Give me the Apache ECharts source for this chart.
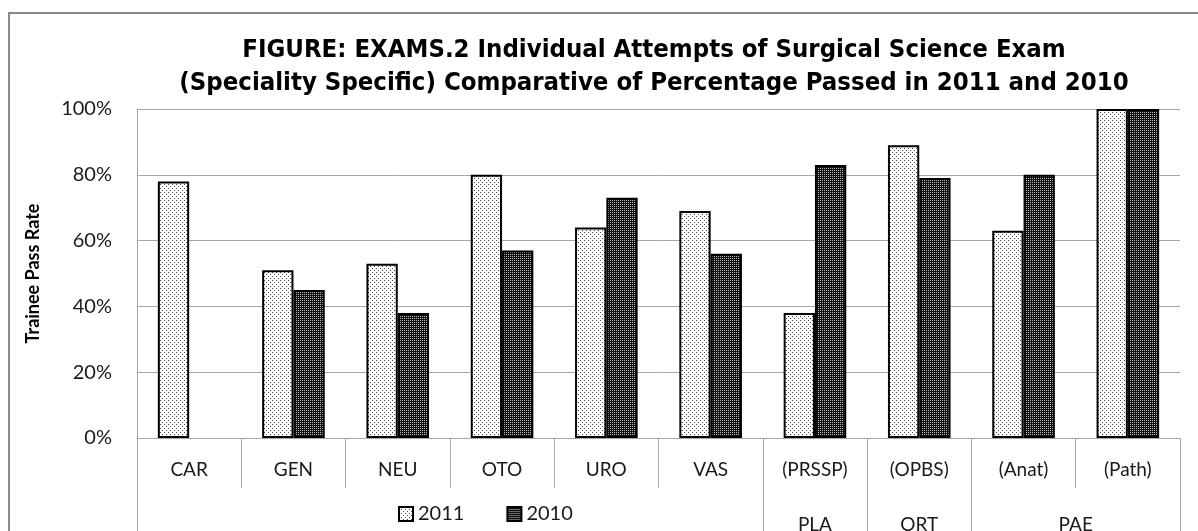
<!DOCTYPE html>
<html>
<head>
<meta charset="utf-8">
<title>EXAMS.2</title>
<script src="https://cdn.jsdelivr.net/npm/echarts@6/dist/echarts.min.js"></script>
<style>
  html, body { margin: 0; padding: 0; background: #fff; }
  #main { width: 1198px; height: 531px; }
</style>
</head>
<body>
<div id="main"></div>
<script>
// specialities (first row under the axis)
const categories = ['CAR', 'GEN', 'NEU', 'OTO', 'URO', 'VAS', '(PRSSP)', '(OPBS)', '(Anat)', '(Path)']
// second row: group name + which categories it spans [from, to)
const groupNames = ['PLA', 'ORT', 'PAE']
const groupFrom = [6, 7, 8]
const groupTo = [7, 8, 10]

// pass rates
const pass2011 = [0.78, 0.51, 0.53, 0.80, 0.64, 0.69, 0.38, 0.89, 0.63, 1.00]
const pass2010 = [null, 0.45, 0.38, 0.57, 0.73, 0.56, 0.83, 0.79, 0.80, 1.00]

const seriesNames = ['2011', '2010']
const titleText = 'FIGURE: EXAMS.2 Individual Attempts of Surgical Science Exam\n(Speciality Specific) Comparative of Percentage Passed in 2011 and 2010'

const labelFont = 'Lato, "Open Sans", sans-serif'
const gridGray = '#a6a6a6'

// small dotted fill, like the old excel patterns
const dotPattern = (bg, dot, pts) => {
  const c = document.createElement('canvas')
  c.width = 4
  c.height = 4
  const ctx = c.getContext('2d')
  ctx.fillStyle = bg
  ctx.fillRect(0, 0, 4, 4)
  ctx.fillStyle = dot
  pts.forEach(p => ctx.fillRect(p[0], p[1], 1, 1))
  return { image: c, repeat: 'repeat' }
}
const light = dotPattern('#ffffff', '#444444', [[0, 0], [2, 2]])
const dark = dotPattern('#111111', '#bdbdbd', [[0, 0], [2, 0], [0, 2], [2, 2]])

// tick marks of the lower row sit on the group edges
const groupEdges = [0]
groupFrom.forEach((f, i) => { groupEdges.push(f); groupEdges.push(groupTo[i]) })
const groupCenters = groupFrom.map((f, i) => (f + groupTo[i]) / 2)

const chart = echarts.init(document.getElementById('main'), null, { renderer: 'canvas' })

const option = {
  animation: false,
  backgroundColor: '#fff',
  title: {
    text: titleText,
    left: 649,
    top: 29,
    textAlign: 'center',
    textStyle: {
      fontFamily: '"DejaVu Sans Condensed", "DejaVu Sans", sans-serif',
      fontWeight: 'bold',
      fontSize: 25.5,
      lineHeight: 33,
      color: '#000'
    }
  },
  legend: {
    data: seriesNames,
    left: 393,
    top: 499,
    itemWidth: 14,
    itemHeight: 14,
    itemGap: 42,
    icon: 'rect',
    textStyle: { fontFamily: labelFont, fontSize: 20, color: '#1a1a1a' }
  },
  graphic: [
    {
      type: 'rect',
      shape: { x: 9, y: 13, width: 1200, height: 600 },
      style: { fill: 'none', stroke: '#8a8a8a', lineWidth: 2 },
      silent: true,
      z: 0
    }
  ],
  grid: {
    left: 137,
    right: 18,
    top: 109,
    bottom: 93,
    outerBoundsMode: 'none'
  },
  xAxis: [
    {
      type: 'category',
      data: categories,
      axisLine: { show: true, lineStyle: { color: gridGray, width: 1 } },
      axisTick: { show: true, length: 50, lineStyle: { color: gridGray, width: 1 } },
      axisLabel: { margin: 22, fontFamily: labelFont, fontSize: 19, color: '#1a1a1a', interval: 0 }
    },
    {
      type: 'value',
      min: 0,
      max: categories.length,
      position: 'bottom',
      splitLine: { show: false },
      axisLine: { show: false },
      axisTick: { show: true, length: 110, customValues: groupEdges.concat([categories.length]), lineStyle: { color: gridGray, width: 1 } },
      axisLabel: {
        margin: 77,
        customValues: groupCenters,
        fontFamily: labelFont,
        fontSize: 19,
        color: '#1a1a1a',
        formatter: v => groupNames[groupCenters.indexOf(v)] || ''
      }
    }
  ],
  yAxis: {
    type: 'value',
    min: 0,
    max: 1,
    interval: 0.2,
    name: 'Trainee Pass Rate',
    nameLocation: 'middle',
    nameGap: 95,
    nameRotate: 90,
    nameTextStyle: { fontFamily: labelFont, fontWeight: 'bold', fontSize: 18, color: '#000' },
    axisLine: { show: true, lineStyle: { color: gridGray, width: 1 } },
    axisTick: { show: false },
    splitLine: { lineStyle: { color: gridGray, width: 1 } },
    axisLabel: {
      margin: 25,
      fontFamily: labelFont,
      fontSize: 20,
      color: '#1a1a1a',
      formatter: v => Math.round(v * 100) + '%'
    }
  },
  series: [
    {
      name: seriesNames[0],
      type: 'bar',
      data: pass2011,
      barGap: '0%',
      barCategoryGap: '40%',
      itemStyle: { color: light, borderColor: '#000', borderWidth: 2 }
    },
    {
      name: seriesNames[1],
      type: 'bar',
      data: pass2010,
      itemStyle: { color: dark, borderColor: '#000', borderWidth: 2 }
    }
  ]
}

option && chart.setOption(option)
</script>
</body>
</html>
